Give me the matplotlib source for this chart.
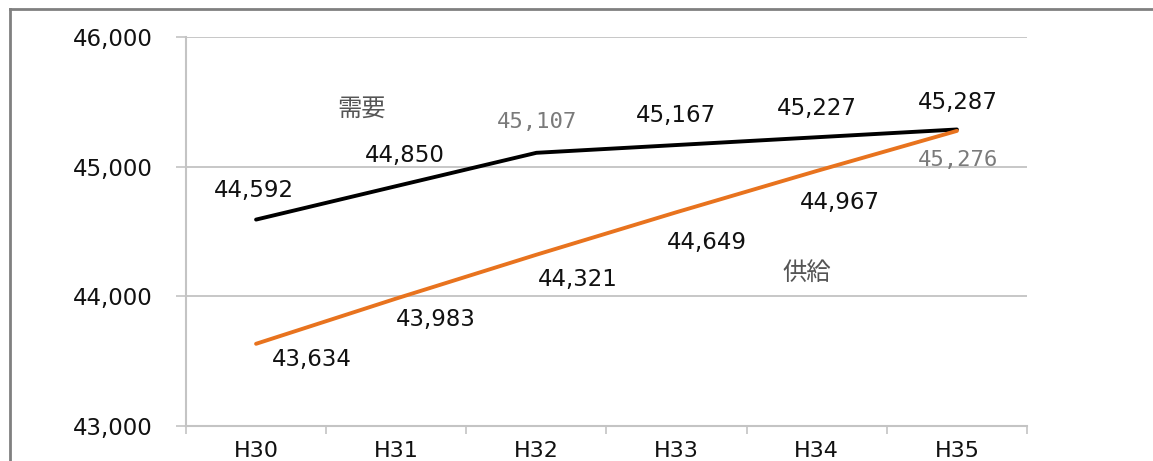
import matplotlib.pyplot as plt
from matplotlib.lines import Line2D

years = ['H30', 'H31', 'H32', 'H33', 'H34', 'H35']
demand = [44592, 44850, 45107, 45167, 45227, 45287]
supply = [43634, 43983, 44321, 44649, 44967, 45276]

# label offsets in pixels (dx, dy) from each point
demand_off = [(-2, 29), (9, 31), (1, 31), (-1, 30), (0, 29), (1, 27)]
supply_off = [(56, -16), (40, -21), (41, -25), (30, -30), (23, -32), (1, -29)]
grey_labels = {('d', 2), ('s', 5)}

plt.rcParams['font.family'] = ['DejaVu Sans', 'Noto Sans CJK JP']

fig = plt.figure(figsize=(11.53, 4.61), dpi=100)
ax = fig.add_axes([0.1613, 0.0759, 0.7294, 0.8438])

x = list(range(len(years)))
ax.plot(x, demand, color='black', lw=2.8, solid_capstyle='round')
ax.plot(x, supply, color='#E8731E', lw=2.8, solid_capstyle='round')

num_kw = dict(color='#111111', fontsize=16.5)
grey_kw = dict(color='#7a7a7a', family='DejaVu Sans Mono', fontsize=16)

for i, v in enumerate(demand):
    kw = grey_kw if ('d', i) in grey_labels else num_kw
    ax.annotate(f'{v:,}', (i, v), xytext=demand_off[i], textcoords='offset pixels',
                ha='center', va='center', **kw)
for i, v in enumerate(supply):
    kw = grey_kw if ('s', i) in grey_labels else num_kw
    ax.annotate(f'{v:,}', (i, v), xytext=supply_off[i], textcoords='offset pixels',
                ha='center', va='center', **kw)

ax.text(0.75, 45450, '需要', family='Noto Sans CJK JP', fontsize=17.5, color='#555555',
        ha='center', va='center')
ax.text(3.93, 44180, '供給', family='Noto Sans CJK JP', fontsize=17.5, color='#555555',
        ha='center', va='center')

ax.set_xlim(-0.5, 5.5)
ax.set_ylim(43000, 46000)
ax.set_yticks([43000, 44000, 45000, 46000])
ax.set_yticklabels([f'{t:,}' for t in [43000, 44000, 45000, 46000]])
ax.set_xticks(x)
ax.set_xticklabels(years)
ax.set_xticks([i - 0.5 for i in range(len(years) + 1)], minor=True)

ax.grid(axis='y', color='#bdbdbd', lw=1.2)
ax.set_axisbelow(True)
for s in ['top', 'right']:
    ax.spines[s].set_visible(False)
for s in ['left', 'bottom']:
    ax.spines[s].set_color('#c4c4c4')
    ax.spines[s].set_linewidth(1.5)

ax.tick_params(axis='y', length=7, color='#c4c4c4', width=1.2, labelsize=16.5,
               labelcolor='#111111', pad=17)
ax.tick_params(axis='x', which='major', length=0, labelsize=16, labelcolor='#111111', pad=11)
ax.tick_params(axis='x', which='minor', length=6, color='#c4c4c4', width=1.2)

# outer frame (left and top edges)
fig.add_artist(Line2D([10 / 1153, 10 / 1153], [0, 1 - 9 / 461], color='#808080', lw=2))
fig.add_artist(Line2D([10 / 1153, 1], [1 - 9 / 461, 1 - 9 / 461], color='#808080', lw=2))

fig.savefig('out.png', dpi=100)
